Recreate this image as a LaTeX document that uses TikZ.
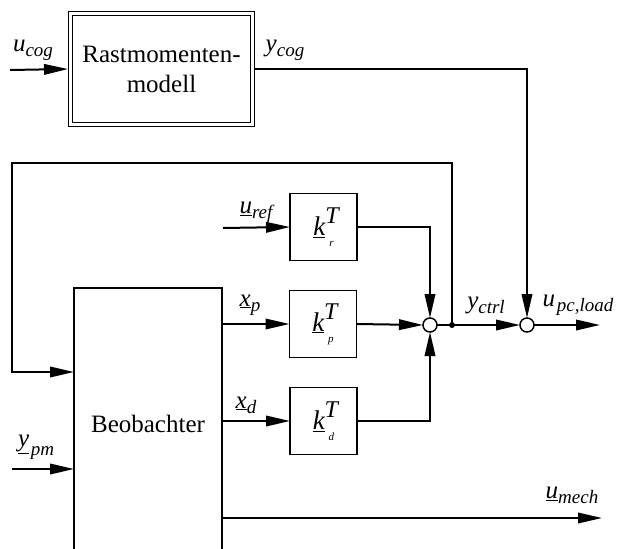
\documentclass[tikz,border=0pt]{standalone}
\usepackage{fontspec}
\setmainfont{Liberation Serif}
\usetikzlibrary{arrows.meta}
\newcommand\mn[1]{{\fontsize{25}{25}\selectfont\itshape #1}}
\newcommand\ls[2][5pt]{\raisebox{-#1}{\fontsize{19}{19}\selectfont\itshape #2}}
\newcommand\kT[1]{{\fontsize{27}{27}\selectfont\itshape\underline{k}}\rlap{\raisebox{12pt}{\fontsize{24}{24}\selectfont\itshape T}}\raisebox{-11pt}{\fontsize{11}{11}\selectfont\itshape\hspace{4pt}#1}\hspace{8pt}}
\begin{document}
\begin{tikzpicture}[x=1pt,y=-1pt,line width=2pt,
  arr/.style={-{Triangle[length=24pt,width=10.5pt]}},
  blk/.style={draw,line width=1.5pt,minimum width=67pt,minimum height=67pt,inner sep=0pt,outer sep=0pt},
  sumc/.style={circle,draw,line width=1.5pt,fill=white,minimum size=14pt,inner sep=0pt,outer sep=0pt},
  lab/.style={inner sep=0pt,anchor=center},
  txt/.style={inner sep=0pt,font=\fontsize{25}{30}\selectfont}]
\useasboundingbox (0,0) rectangle (619,549);
% Rastmomentenmodell
\node[draw,double,double distance=2.5pt,line width=1.3pt,minimum width=182pt,minimum height=111pt,
  outer sep=2.5pt,align=center,font=\fontsize{25}{30}\selectfont] (rast) at (161.5,69) {Rastmomenten-\\modell};
% Beobachter
\node[minimum width=148pt,minimum height=261pt,inner sep=0pt,outer sep=0pt] (beo) at (148,418.5) {};
\draw (beo.south west) -- (beo.north west) -- (beo.north east) -- (beo.south east);
\node[txt] (beotxt) at (148,424) {Beobachter};
% gain blocks
\node[blk] (kr) at (323.5,227) {\kT{r}};
\node[blk] (kp) at (323,324) {\kT{p}};
\node[blk] (kd) at (323.5,421) {\kT{d}};
% summing points
\node[sumc] (s1) at (430,325) {};
\node[sumc] (s2) at (527,325) {};
\node[circle,fill,inner sep=0pt,minimum size=6pt] (dot) at (452,325) {};
% free ends / corners
\coordinate (ucogin) at (10,70);
\coordinate (urefin) at (223,228);
\coordinate (ypmin) at (12,469);
\coordinate (fbA) at (452,163);
\coordinate (fbB) at (12,163);
\coordinate (fbC) at (12,372);
\coordinate (outpc) at (600,325);
\coordinate (outmech) at (602,518);
% connectors
\draw[arr] (ucogin) -- (rast.west);
\draw[arr] (rast.east) -| (s2.north);
\draw[arr] (urefin) -- (kr.west);
\draw[arr] (kr.east) -| (s1.north);
\draw[arr] (beo.east |- kp.west) -- (kp.west);
\draw[arr] (kp.east) -- (s1.west);
\draw[arr] (beo.east |- kd.west) -- (kd.west);
\draw[arr] (kd.east) -| (s1.south);
\draw (s1.east) -- (dot.center);
\draw[arr] (dot.center) -- (s2.west);
\draw[arr] (s2.east) -- (outpc);
\draw[arr] (dot.center) -- (fbA) -- (fbB) -- (fbC) -- (beo.west |- fbC);
\draw[arr] (ypmin) -- (beo.west |- ypmin);
\draw[arr] (beo.east |- outmech) -- (outmech);
% labels
\node[lab] (lucog) at (33,50) {\mn{u}\ls{cog}};
\node[lab] (lycog) at (285,50) {\mn{y}\ls{cog}};
\node[lab] (luref) at (256,212) {\mn{\underline{u}}\ls{ref}};
\node[lab] (lxp) at (250,305) {\mn{\underline{x}}\ls{p}};
\node[lab] (lxd) at (246,405) {\mn{\underline{x}}\ls{d}};
\node[lab] (lyctrl) at (486,305) {\mn{y}\ls{ctrl}};
\node[lab] (lupc) at (578,305) {\mn{u}\,\ls{pc,load}};
\node[lab] (lypm) at (36,447) {\mn{\underline{y}}\,\ls[9pt]{pm}};
\node[lab] (lumech) at (572,495) {\mn{\underline{u}}\ls{mech}};
\end{tikzpicture}
\end{document}
